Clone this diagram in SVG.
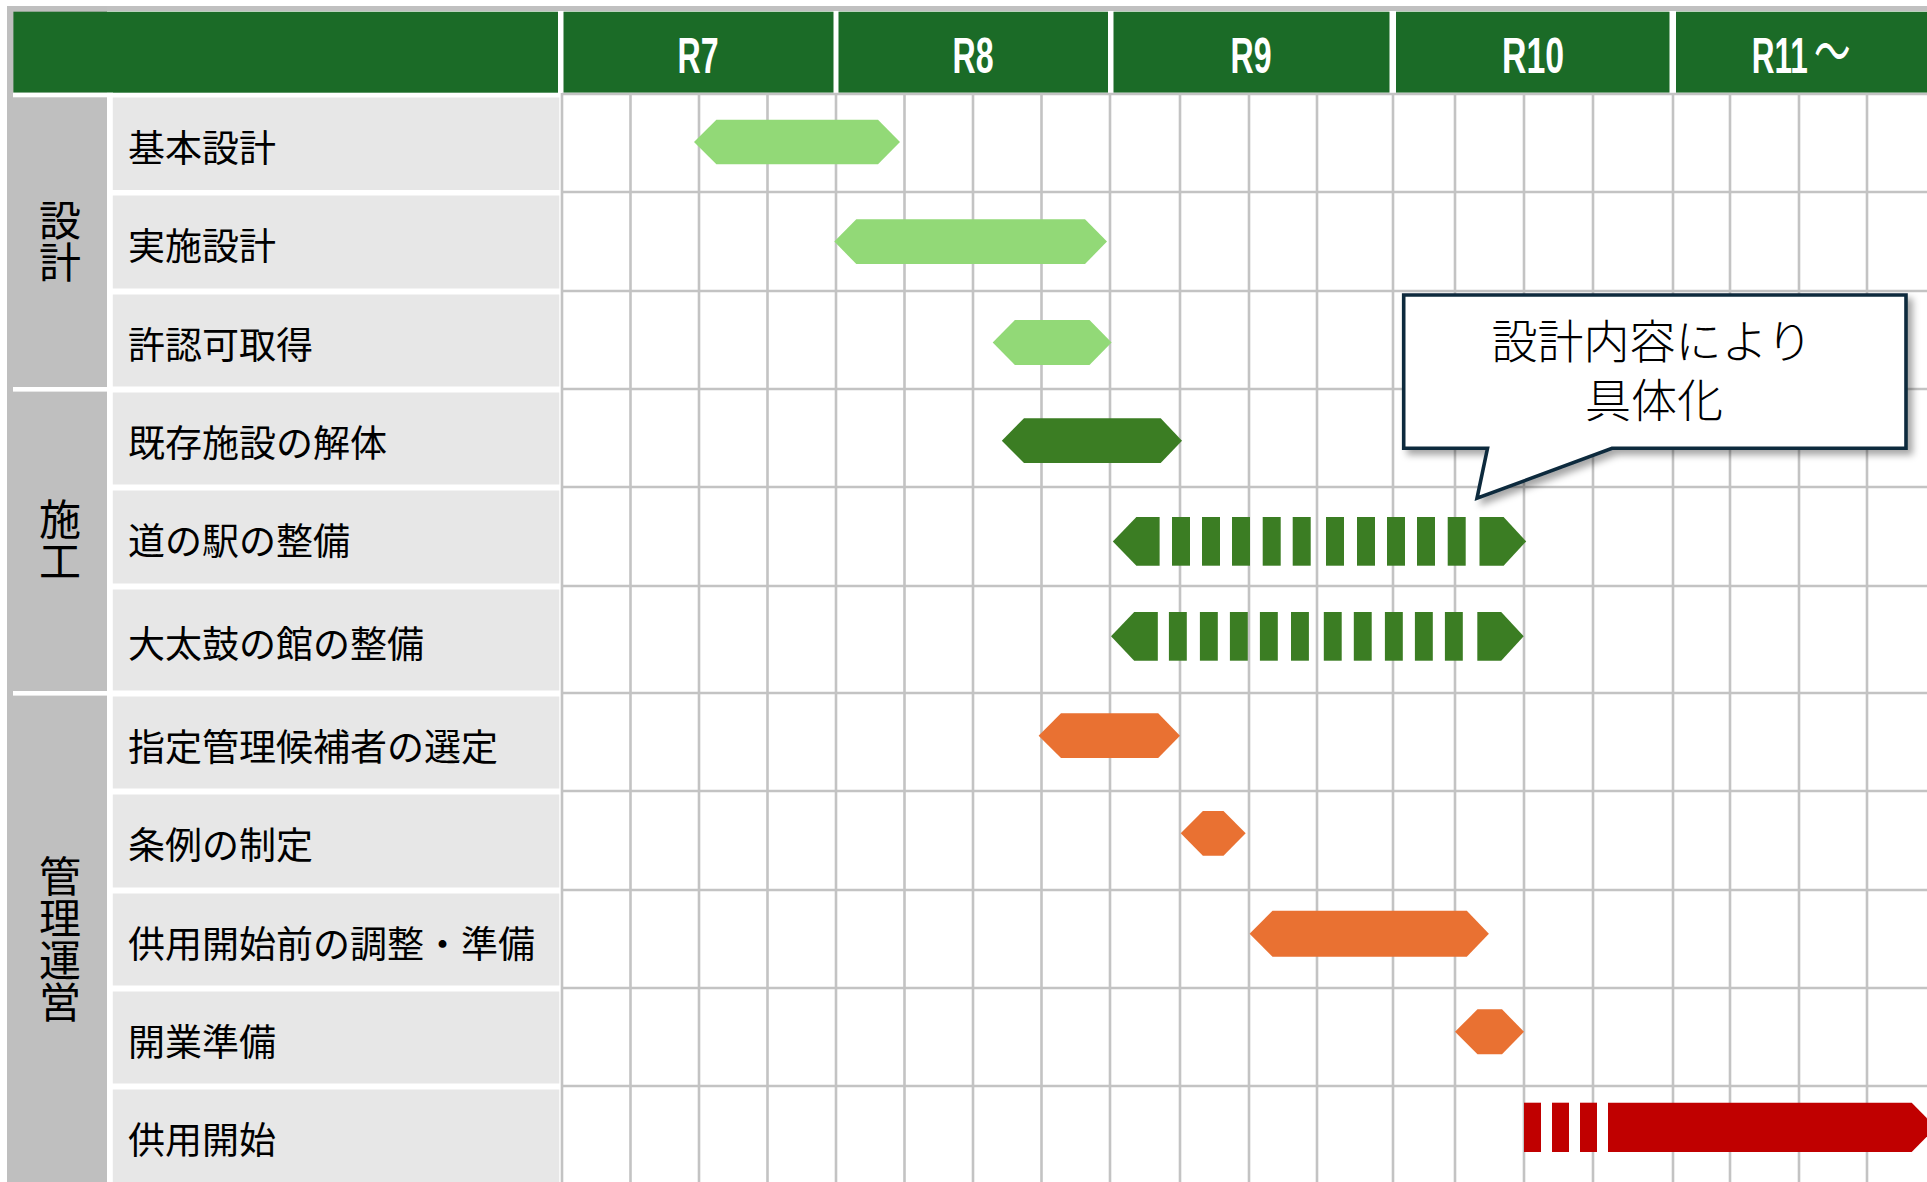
<svg xmlns="http://www.w3.org/2000/svg" width="1927" height="1182" viewBox="0 0 1927 1182">
<defs>
<style>
.frame{fill:#c0c0c0}
.hdr{fill:#1b6b27}
.cat{fill:#bfbfbf}
.cell{fill:#e7e7e7}
.sep{fill:#ffffff}
.grid{stroke:#c3c3c3;stroke-width:2.6;fill:none}
.yr{font-family:"Liberation Sans",Arial,sans-serif;font-weight:bold;font-size:50px;fill:#ffffff;text-anchor:middle}
.lbl{font-family:"Noto Sans CJK JP","Noto Sans CJK SC",sans-serif;font-size:37px;fill:#000000}
.catt{font-family:"Noto Sans CJK JP","Noto Sans CJK SC",sans-serif;font-size:42px;fill:#000000;text-anchor:middle;writing-mode:vertical-rl}
.lg{fill:#92d977}
.dg{fill:#3b7d23}
.or{fill:#e97132}
.rd{fill:#c00000}
.call{fill:#ffffff;stroke:#0e2a3d;stroke-width:3.6;stroke-linejoin:miter}
.callt{font-family:"Noto Sans CJK JP","Noto Sans CJK SC",sans-serif;font-weight:300;font-size:46px;fill:#000000;text-anchor:middle}
</style>
<filter id="shadow" x="-10%" y="-10%" width="130%" height="140%">
<feDropShadow dx="5" dy="5" stdDeviation="3.5" flood-color="#000000" flood-opacity="0.35"/>
</filter>
</defs>
<rect x="0" y="0" width="1927" height="1182" fill="#ffffff"/>

<g id="frame">
<rect class="frame" x="7" y="6" width="1920" height="5"/>
<rect class="cat" x="7" y="6" width="100" height="1176"/>
</g>

<g id="header">
<rect class="hdr" x="13.4" y="11.7" width="544.6" height="81"/>
<rect class="hdr" x="563.5" y="11.7" width="270" height="81"/>
<rect class="hdr" x="838.5" y="11.7" width="269.5" height="81"/>
<rect class="hdr" x="1113.5" y="11.7" width="276" height="81"/>
<rect class="hdr" x="1396" y="11.7" width="273.5" height="81"/>
<rect class="hdr" x="1676" y="11.7" width="251" height="81"/>
<text class="yr" x="698" y="72.7" textLength="41" lengthAdjust="spacingAndGlyphs">R7</text>
<text class="yr" x="973" y="72.7" textLength="41" lengthAdjust="spacingAndGlyphs">R8</text>
<text class="yr" x="1251" y="72.7" textLength="41" lengthAdjust="spacingAndGlyphs">R9</text>
<text class="yr" x="1533" y="72.7" textLength="62" lengthAdjust="spacingAndGlyphs">R10</text>
<text class="yr" transform="translate(1751.7,72.7) scale(0.63,1)" x="0" y="0" style="text-anchor:start;font-family:'Liberation Sans','Noto Sans CJK JP',sans-serif">R11<tspan dx="10" font-size="58" font-weight="normal" font-family="Noto Sans CJK JP, sans-serif">～</tspan></text>
</g>

<g id="grid">
<path class="grid" d="M562,93V1182M630.5,93V1182M699,93V1182M767.5,93V1182M836,93V1182M904.5,93V1182M973,93V1182M1041.5,93V1182M1110,93V1182M1180,93V1182M1249,93V1182M1317,93V1182M1393,93V1182M1455,93V1182M1524,93V1182M1593,93V1182M1673,93V1182M1730,93V1182M1799,93V1182M1867,93V1182"/>
<path class="grid" d="M562,94H1927M562,192H1927M562,291H1927M562,389H1927M562,487H1927M562,586H1927M562,693H1927M562,791H1927M562,890H1927M562,988H1927M562,1086H1927"/>
</g>

<g id="left-separators">
<rect class="sep" x="13" y="92.7" width="100" height="4.6"/>
<rect class="sep" x="13" y="387" width="100" height="4.6"/>
<rect class="sep" x="13" y="691" width="100" height="4.6"/>
</g>

<g id="cat-design">
<text class="catt" x="60" y="241">設計</text>
</g>
<g id="cat-construction">
<text class="catt" x="60" y="540">施工</text>
</g>
<g id="cat-management">
<text class="catt" x="60" y="939.5">管理運営</text>
</g>

<g id="row-kihon">
<rect class="cell" x="112.8" y="97.5" width="446.5" height="92.5"/>
<text class="lbl" x="128" y="161.5">基本設計</text>
</g>
<g id="row-jisshi">
<rect class="cell" x="112.8" y="195.5" width="446.5" height="93"/>
<text class="lbl" x="128" y="260">実施設計</text>
</g>
<g id="row-kyoninka">
<rect class="cell" x="112.8" y="294.5" width="446.5" height="92"/>
<text class="lbl" x="128" y="358.5">許認可取得</text>
</g>
<g id="row-kaitai">
<rect class="cell" x="112.8" y="392.5" width="446.5" height="92"/>
<text class="lbl" x="128" y="456.5">既存施設の解体</text>
</g>
<g id="row-michinoeki">
<rect class="cell" x="112.8" y="490.5" width="446.5" height="93"/>
<text class="lbl" x="128" y="555">道の駅の整備</text>
</g>
<g id="row-odaiko">
<rect class="cell" x="112.8" y="589.5" width="446.5" height="101"/>
<text class="lbl" x="128" y="658">大太鼓の館の整備</text>
</g>
<g id="row-shitei">
<rect class="cell" x="112.8" y="696.5" width="446.5" height="92"/>
<text class="lbl" x="128" y="760.5">指定管理候補者の選定</text>
</g>
<g id="row-jorei">
<rect class="cell" x="112.8" y="794.5" width="446.5" height="93"/>
<text class="lbl" x="128" y="859">条例の制定</text>
</g>
<g id="row-chosei">
<rect class="cell" x="112.8" y="893.5" width="446.5" height="92"/>
<text class="lbl" x="128" y="957.5">供用開始前の調整・準備</text>
</g>
<g id="row-kaigyo">
<rect class="cell" x="112.8" y="991.5" width="446.5" height="92"/>
<text class="lbl" x="128" y="1055.5">開業準備</text>
</g>
<g id="row-kyoyo">
<rect class="cell" x="112.8" y="1089.5" width="446.5" height="92.5"/>
<text class="lbl" x="128" y="1154">供用開始</text>
</g>

<g id="bars">
<polygon class="lg" points="694,142 716.4,119.7 878,119.7 900,142 878,164.3 716.4,164.3"/>
<polygon class="lg" points="834.3,241.6 856.3,219.3 1085,219.3 1107,241.6 1085,264 856.3,264"/>
<polygon class="lg" points="992.7,342.5 1014.9,320 1089.5,320 1111.6,342.5 1089.5,365 1014.9,365"/>
<polygon class="dg" points="1001.8,440.7 1024,418.3 1160.7,418.3 1182,440.7 1160.7,463 1024,463"/>
<g id="bar-michinoeki" class="dg">
<polygon points="1112.8,541.4 1136.4,517 1159.6,517 1159.6,565.7 1136.4,565.7"/>
<rect x="1172" y="517" width="18" height="48.7"/>
<rect x="1202" y="517" width="18" height="48.7"/>
<rect x="1232" y="517" width="18" height="48.7"/>
<rect x="1262.7" y="517" width="18" height="48.7"/>
<rect x="1292.7" y="517" width="18" height="48.7"/>
<rect x="1326" y="517" width="18" height="48.7"/>
<rect x="1357" y="517" width="18" height="48.7"/>
<rect x="1387" y="517" width="18" height="48.7"/>
<rect x="1417" y="517" width="18" height="48.7"/>
<rect x="1447.7" y="517" width="18" height="48.7"/>
<polygon points="1479.5,517 1503.6,517 1526.2,541.4 1503.6,565.7 1479.5,565.7"/>
</g>
<g id="bar-odaiko" class="dg">
<polygon points="1111,636.3 1134.2,612 1157.8,612 1157.8,660.7 1134.2,660.7"/>
<rect x="1168.9" y="612" width="17.9" height="48.7"/>
<rect x="1199.9" y="612" width="17.9" height="48.7"/>
<rect x="1229.9" y="612" width="17.9" height="48.7"/>
<rect x="1259.9" y="612" width="17.9" height="48.7"/>
<rect x="1291" y="612" width="17.9" height="48.7"/>
<rect x="1323.8" y="612" width="17.9" height="48.7"/>
<rect x="1353.8" y="612" width="17.9" height="48.7"/>
<rect x="1384.9" y="612" width="17.9" height="48.7"/>
<rect x="1414.9" y="612" width="17.9" height="48.7"/>
<rect x="1444.9" y="612" width="17.9" height="48.7"/>
<polygon points="1477.3,612 1501.2,612 1523.7,636.3 1501.2,660.7 1477.3,660.7"/>
</g>
<polygon class="or" points="1038.6,735.7 1061,713.3 1158.2,713.3 1180,735.7 1158.2,758 1061,758"/>
<polygon class="or" points="1180.7,833.3 1202.9,811 1223.5,811 1245.7,833.3 1223.5,855.7 1202.9,855.7"/>
<polygon class="or" points="1249.6,933.7 1272.5,910.7 1466.8,910.7 1488.9,933.7 1466.8,956.7 1272.5,956.7"/>
<polygon class="or" points="1455,1031.8 1477.5,1009.3 1502,1009.3 1524,1031.8 1502,1054.3 1477.5,1054.3"/>
<g id="bar-kyoyo" class="rd">
<rect x="1524" y="1102.7" width="17" height="49.3"/>
<rect x="1552" y="1102.7" width="17" height="49.3"/>
<rect x="1580" y="1102.7" width="17" height="49.3"/>
<polygon points="1608,1102.7 1911.7,1102.7 1936,1127.4 1911.7,1152 1608,1152"/>
</g>
</g>

<g id="callout">
<path class="call" filter="url(#shadow)" d="M1403.7,295 H1906 V448.3 H1612 L1477,498.3 L1487.5,448.3 H1403.7 Z"/>
<text class="callt"><tspan x="1652" y="358">設計内容により</tspan><tspan x="1654" y="417">具体化</tspan></text>
</g>
</svg>
